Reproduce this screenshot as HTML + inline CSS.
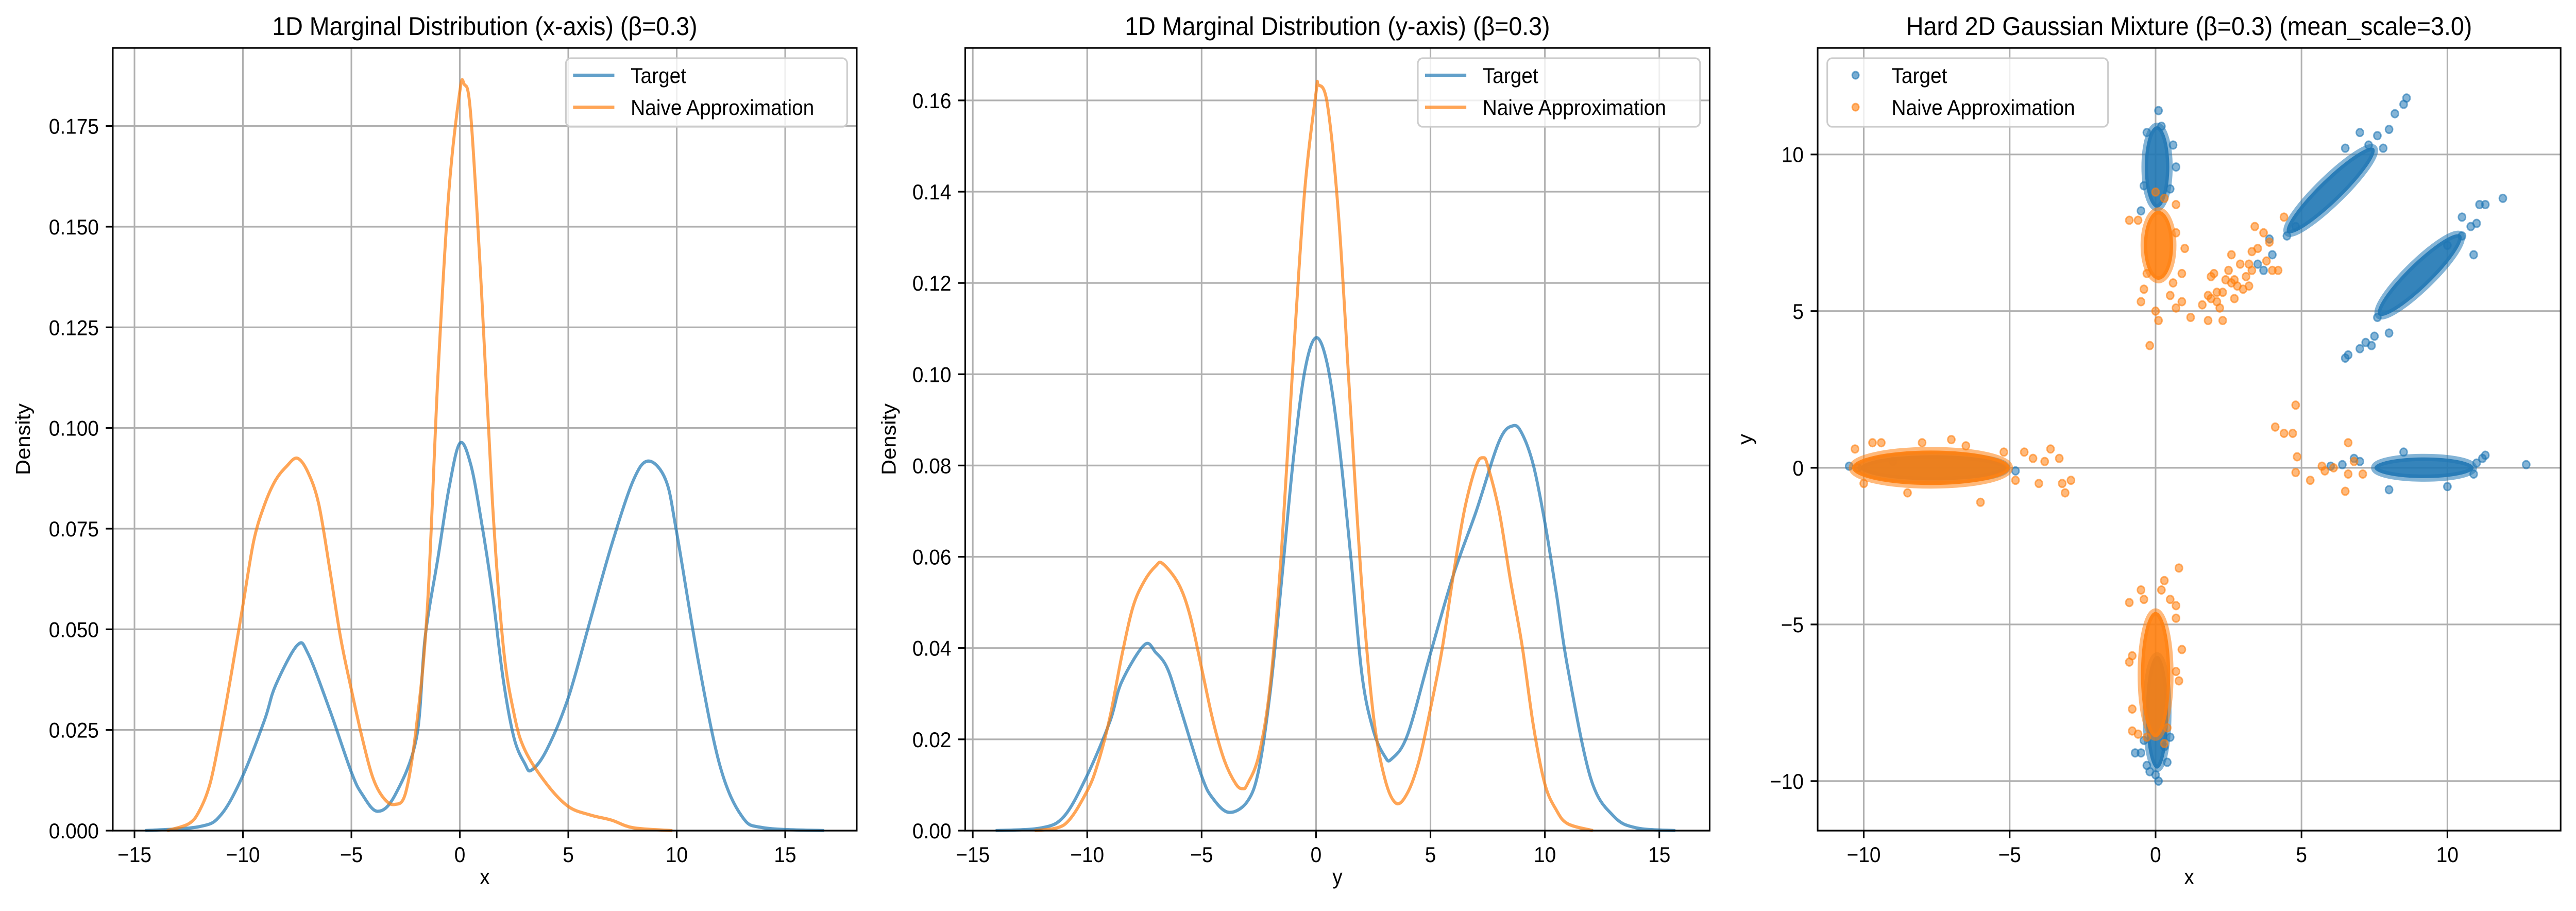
<!DOCTYPE html>
<html><head><meta charset="utf-8">
<style>
html,body{margin:0;padding:0;background:#fff;overflow:hidden;width:100%;height:100%;}
svg{display:block;width:100vw;height:100vh;font-family:"Liberation Sans","DejaVu Sans",sans-serif;}
</style></head>
<body>
<svg id="fig" viewBox="0 0 5367 1768" preserveAspectRatio="none" xmlns="http://www.w3.org/2000/svg"></svg>
<script>
// ---- Panel 1 data: x-axis marginal ----
const p1TargetX = [-14.5,-12,-11,-10,-9,-8.5,-7.5,-7,-6,-5,-4.5,-3.8,-3,-2,-1.6,-1,-0.5,0,0.5,1,1.5,2,2.5,3,3.3,4,5,6,7,8,8.7,9.5,10,11,12,13,14,16.8];
const p1TargetY = [0,0.001,0.004,0.0137,0.0275,0.036,0.046,0.044,0.030,0.0145,0.009,0.0048,0.0087,0.023,0.048,0.068,0.085,0.0962,0.091,0.0766,0.059,0.0376,0.023,0.0166,0.015,0.020,0.033,0.052,0.071,0.087,0.0918,0.087,0.074,0.042,0.016,0.0036,0.0007,0];
const p1NaiveX = [-13.5,-12.5,-12,-11.5,-11,-10.5,-10,-9.5,-9,-8.5,-8,-7.5,-7,-6.5,-6,-5.5,-5,-4.5,-4,-3.5,-3,-2.5,-2,-1.5,-1,-0.5,0,0.2,0.5,1,1.5,2,2.5,3,4,5,6,7,8,9.8];
const p1NaiveY = [0,0.0017,0.005,0.012,0.025,0.040,0.056,0.072,0.081,0.087,0.0904,0.0925,0.089,0.081,0.065,0.048,0.035,0.023,0.013,0.008,0.0065,0.0094,0.026,0.055,0.114,0.159,0.1836,0.1854,0.178,0.134,0.082,0.046,0.029,0.020,0.0116,0.006,0.0039,0.0026,0.0007,0];
const p1XTicks = [-15,-10,-5,0,5,10,15];
const p1YTicks = [0,0.025,0.05,0.075,0.1,0.125,0.15,0.175];

// ---- Panel 2 data: y-axis marginal ----
const p2TargetX = [-14,-12,-11,-10,-9,-8.5,-7.5,-7,-6.5,-6,-5,-4.5,-3.8,-3,-2.5,-2,-1.5,-1,-0.5,0,0.5,1,1.5,2,2.5,3,3.3,4,5,6,7,8,8.6,9,9.5,10,10.5,11,12,13,14,15.7];
const p2TargetY = [0,0.0006,0.0032,0.0121,0.024,0.0325,0.0407,0.039,0.0356,0.028,0.012,0.007,0.004,0.0064,0.0134,0.0305,0.055,0.081,0.1005,0.108,0.102,0.085,0.061,0.0344,0.022,0.0163,0.0157,0.021,0.0388,0.056,0.070,0.0853,0.0887,0.087,0.080,0.0675,0.052,0.0356,0.0115,0.0032,0.0006,0];
const p2NaiveX = [-12.3,-11,-10,-9.5,-9,-8.5,-8,-7.5,-7,-6.7,-6,-5.5,-5,-4.5,-4,-3.5,-3.2,-3,-2.5,-2,-1.5,-1,-0.5,0,0.1,0.5,1,1.5,2,2.5,3,3.5,4,4.5,5,5.5,6,6.5,7,7.3,7.5,8,8.5,9,9.5,10,10.5,11,12.1];
const p2NaiveY = [0,0.0013,0.0087,0.0153,0.025,0.038,0.049,0.0547,0.058,0.0585,0.054,0.047,0.0356,0.024,0.0153,0.0102,0.0092,0.0102,0.0165,0.032,0.062,0.103,0.14,0.1617,0.1634,0.159,0.1337,0.093,0.0535,0.0255,0.0115,0.006,0.0083,0.0153,0.0267,0.0395,0.056,0.0706,0.080,0.0817,0.080,0.070,0.0547,0.0407,0.0229,0.0102,0.0045,0.0015,0];
const p2XTicks = [-15,-10,-5,0,5,10,15];
const p2YTicks = [0,0.02,0.04,0.06,0.08,0.1,0.12,0.14,0.16];

// ---- Panel 3 data: 2D scatter ----
const targetCoreX = [0.05,6.0,9.05,9.2,-7.6,0.05];
const targetCoreY = [9.6,8.85,6.15,0.0,0.0,-7.8];
const targetCoreLen = [1.3,2.0,1.9,1.7,2.5,1.8];
const targetCoreWid = [0.42,0.38,0.4,0.33,0.4,0.38];
const targetCoreAng = [90,42,42,0,0,90];
const naiveCoreX = [-7.7,0.1,0.0];
const naiveCoreY = [0.0,7.1,-6.6];
const naiveCoreLen = [2.7,1.1,2.0];
const naiveCoreWid = [0.55,0.5,0.5];
const naiveCoreAng = [0,90,90];
const targetPtsX = [-0.3,0.1,0.6,0.7,-0.5,0.2,-0.4,0.5, 3.7,4.0,4.5,4.8,7.3,7.6,8.0,8.2,7.8,8.5,8.6,3.5,3.9,7.0,6.5, 6.5,6.6,7.0,7.2,7.5,7.4,8.0,10.5,11.0,11.3,11.9,11.1,10.8,10.5,10.9,10.0,7.6, 6.8,7.0,6.0,6.4,11.2,11.3,10.9,11.0,12.7,8.0,10.0,8.5, -0.7,-0.5,-0.3,0.0,0.1,-0.2,0.4,0.3,0.5,-0.4, -10.5,-10.2,-9.0,-4.8];
const targetPtsY = [10.7,11.4,10.3,9.6,8.2,10.9,9.0,8.9, 6.3,6.8,7.4,7.7,10.3,10.6,10.8,11.3,10.2,11.6,11.8,6.5,7.3,10.7,10.2, 3.5,3.6,3.8,4.0,4.2,3.9,4.3,7.4,7.8,8.4,8.6,8.4,7.7,8.0,6.8,7.1,4.8, 0.3,0.2,0.05,0.1,0.3,0.4,-0.2,0.15,0.1,-0.7,-0.6,0.5, -9.1,-9.1,-9.5,-9.8,-10.0,-9.7,-9.4,-8.9,-8.6,-8.7, 0.05,0.0,0.2,-0.1];
const naivePtsX = [-4.5,-4.2,-3.8,-3.6,-3.3,-3.2,-3.1,-2.9,-4.0,-4.8,-10.3,-10.0,-9.7,-9.4,-8.5,-6.0,-7.0,-8.0,-6.5,-5.2, -0.9,-0.6,0.0,0.3,0.7,0.7,1.0,0.9,-0.4,-0.5,0.0,0.1,-0.2,0.7,0.9,0.5,-0.3,0.6,1.2, 1.6,1.8,1.8,2.3,1.9,2.1,2.0,2.1,2.4,2.5,2.6,2.7,2.8,2.9,3.0,3.1,3.2,3.3,3.4,3.2,2.7,3.5,3.7,3.9,4.0,4.2,3.8,2.3,2.6,4.4,3.3,1.9,2.2, 4.1,4.4,4.7,4.8,4.85,4.8,5.3,5.7,5.8,6.6,6.6,6.5,6.8,7.1,6.1, 0.8,0.3,0.2,-0.5,0.5,-0.4,-0.9,0.7,0.7,-0.8,-0.9,0.9,0.8,-0.8,-0.8,-0.6,0.3,0.4,-0.3,0.7];
const naivePtsY = [0.5,0.3,0.2,0.6,0.3,-0.5,-0.8,-0.4,-0.5,-0.4,0.6,-0.5,0.8,0.8,-0.8,-1.1,0.9,0.8,0.7,0.5, 7.9,7.9,8.8,8.6,8.4,7.5,7.0,6.2,5.7,5.3,5.0,4.7,3.9,5.1,5.3,5.5,6.2,5.9,4.8, 5.2,5.5,4.7,4.7,5.4,5.3,6.2,5.6,6.0,6.3,6.8,6.0,5.8,6.5,5.7,6.1,6.5,6.3,7.7,5.8,5.4,7.0,7.5,7.2,6.3,6.3,6.6,5.6,5.9,8.0,6.9,6.1,5.1, 1.3,1.1,1.1,2.0,0.35,-0.15,-0.4,0.05,-0.1,0.8,-0.2,-0.75,0.2,-0.2,0.0, -3.2,-3.6,-3.9,-3.9,-4.2,-4.2,-4.3,-4.4,-4.8,-6.0,-6.2,-5.8,-6.8,-7.7,-8.4,-8.5,-8.8,-8.3,-8.6,-6.5];
const p3Ticks = [-10,-5,0,5,10];

const NS = "http://www.w3.org/2000/svg";
const svg = document.getElementById('fig');
const BLUE = "#1f77b4", ORANGE = "#ff7f0e";
function mk(tag, attrs, parent){ const e=document.createElementNS(NS,tag); for(const k in attrs) e.setAttribute(k,attrs[k]); (parent||svg).appendChild(e); return e; }
function fmt(v,d){ const s=Math.abs(v).toFixed(d); return (v<0?"\u2212":"")+s; }

function makeAxes(name, L,R,T,B, xd, yd){
  const g = mk('g',{});
  
  
  const sx = v => L + (v-xd[0])/(xd[1]-xd[0])*(R-L);
  const sy = v => B - (v-yd[0])/(yd[1]-yd[0])*(B-T);
  return {g,sx,sy,L,R,T,B};
}
function drawFrame(ax, xt, yt, xdec, ydec, title, xlabel, ylabel, ylabX){
  const {g,sx,sy,L,R,T,B} = ax;
  xt.forEach(v=>{ const x=sx(v);
    const gl=mk('line',{x1:x,x2:x,y1:T,y2:B,stroke:'#b0b0b0','stroke-width':3.3},g);
     
    mk('line',{x1:x,x2:x,y1:B,y2:B+14.6,stroke:'#000','stroke-width':3.3},g);
    const t=mk('text',{x:x,y:B+61,'font-size':41.7,'text-anchor':'middle',fill:'#000'},g); t.textContent=fmt(v,xdec);
     
  });
  yt.forEach(v=>{ const y=sy(v);
    const gl=mk('line',{x1:L,x2:R,y1:y,y2:y,stroke:'#b0b0b0','stroke-width':3.3},g);
     
    mk('line',{x1:L-14.6,x2:L,y1:y,y2:y,stroke:'#000','stroke-width':3.3},g);
    const t=mk('text',{x:L-29,y:y+15,'font-size':41.7,'text-anchor':'end',fill:'#000'},g); t.textContent=fmt(v,ydec);
     
  });
  const tt=mk('text',{x:(L+R)/2,y:68,'font-size':50,'text-anchor':'middle',fill:'#000'},g); tt.textContent=title;
   
  const xl=mk('text',{x:(L+R)/2,y:1716,'font-size':41.7,'text-anchor':'middle',fill:'#000'},g); xl.textContent=xlabel;
   
  const yc=(T+B)/2;
  const yl=mk('text',{x:ylabX,y:yc,'font-size':41.7,'text-anchor':'middle',fill:'#000',transform:`rotate(-90 ${ylabX} ${yc})`},g); yl.textContent=ylabel;
   
}
function drawSpine(ax){
  const r=mk('rect',{x:ax.L,y:ax.T,width:ax.R-ax.L,height:ax.B-ax.T,fill:'none',stroke:'#000','stroke-width':3.3},ax.g);
   
}
function drawLine(ax, xs, ys, color, name){
  const P = xs.map((x,i)=>[ax.sx(x), ax.sy(ys[i])]);
  let d = 'M'+P[0][0].toFixed(1)+' '+P[0][1].toFixed(1);
  for(let i=0;i<P.length-1;i++){
    const p0=P[Math.max(0,i-1)], p1=P[i], p2=P[i+1], p3=P[Math.min(P.length-1,i+2)];
    const c1x=p1[0]+(p2[0]-p0[0])/6, c1y=Math.min(ax.B,p1[1]+(p2[1]-p0[1])/6);
    const c2x=p2[0]-(p3[0]-p1[0])/6, c2y=Math.min(ax.B,p2[1]-(p3[1]-p1[1])/6);
    d += ` C${c1x.toFixed(1)} ${c1y.toFixed(1)} ${c2x.toFixed(1)} ${c2y.toFixed(1)} ${p2[0].toFixed(1)} ${p2[1].toFixed(1)}`;
  }
  const p=mk('path',{d:d,fill:'none',stroke:color,'stroke-width':6.25,'stroke-opacity':0.7,'stroke-linejoin':'round','stroke-linecap':'butt'},ax.g);
   
}
function legend(ax, x0, x1, kind){
  const g=mk('g',{},ax.g);
   
  mk('rect',{x:x0,y:113,width:x1-x0,height:133,rx:10,fill:'#fff','fill-opacity':0.8,stroke:'#cccccc','stroke-width':3.3},g);
  [['Target',BLUE,146],['Naive Approximation',ORANGE,208]].forEach(([lab,c,y])=>{
    const eg=mk('g',{},g);
     
    let tx;
    if(kind==='line'){ mk('line',{x1:x0+15,x2:x0+101,y1:y,y2:y,stroke:c,'stroke-width':6.25,'stroke-opacity':0.7},eg); tx=x0+135; }
    else { mk('circle',{cx:x0+59,cy:y,r:7,fill:c,'fill-opacity':0.6,stroke:c,'stroke-opacity':0.6,'stroke-width':3},eg); tx=x0+134; }
    const t=mk('text',{x:tx,y:y+15,'font-size':41.7,fill:'#000'},eg); t.textContent=lab;
  });
}

// Panel 1
const a1 = makeAxes('x-marginal-chart',235,1785,93,1612,[-16.0,18.3],[0,0.1944]);
drawFrame(a1,p1XTicks,p1YTicks,0,3,'1D Marginal Distribution (x-axis) (\u03b2=0.3)','x','Density',62);
drawLine(a1,p1TargetX,p1TargetY,BLUE,'target-density-line');
drawLine(a1,p1NaiveX,p1NaiveY,ORANGE,'naive-density-line');
drawSpine(a1); legend(a1,1179,1765,'line');

// Panel 2
const a2 = makeAxes('y-marginal-chart',2011,3562,93,1612,[-15.33,17.2],[0,0.1715]);
drawFrame(a2,p2XTicks,p2YTicks,0,2,'1D Marginal Distribution (y-axis) (\u03b2=0.3)','y','Density',1866);
drawLine(a2,p2TargetX,p2TargetY,BLUE,'target-density-line');
drawLine(a2,p2NaiveX,p2NaiveY,ORANGE,'naive-density-line');
drawSpine(a2); legend(a2,2954,3542,'line');

// Panel 3
const a3 = makeAxes('scatter-chart',3787,5335,93,1612,[-11.58,13.88],[-11.58,13.4]);
drawFrame(a3,p3Ticks,p3Ticks,0,0,'Hard 2D Gaussian Mixture  (\u03b2=0.3) (mean_scale=3.0)','x','y',3650);
const ppu = (a3.R-a3.L)/(13.88+11.58);
function cores(xs,ys,ls,ws,as,c,name){
  xs.forEach((x,i)=>{
    const cx=a3.sx(x), cy=a3.sy(ys[i]);
    const e=mk('ellipse',{cx:cx,cy:cy,rx:ls[i]*ppu,ry:ws[i]*ppu,fill:c,'fill-opacity':0.9,stroke:c,'stroke-opacity':0.55,'stroke-width':14,transform:`rotate(${-as[i]} ${cx} ${cy})`},a3.g);
     
  });
}
function pts(xs,ys,c,name){
  xs.forEach((x,i)=>{
    const p=mk('circle',{cx:a3.sx(x),cy:a3.sy(ys[i]),r:7.5,fill:c,'fill-opacity':0.55,stroke:c,'stroke-opacity':0.6,'stroke-width':3},a3.g);
     
  });
}
cores(targetCoreX,targetCoreY,targetCoreLen,targetCoreWid,targetCoreAng,BLUE,'target-cluster');
pts(targetPtsX,targetPtsY,BLUE,'target-point');
cores(naiveCoreX,naiveCoreY,naiveCoreLen,naiveCoreWid,naiveCoreAng,ORANGE,'naive-cluster');
pts(naivePtsX,naivePtsY,ORANGE,'naive-point');
drawSpine(a3); legend(a3,3807,4392,'marker');
</script>
</body></html>
